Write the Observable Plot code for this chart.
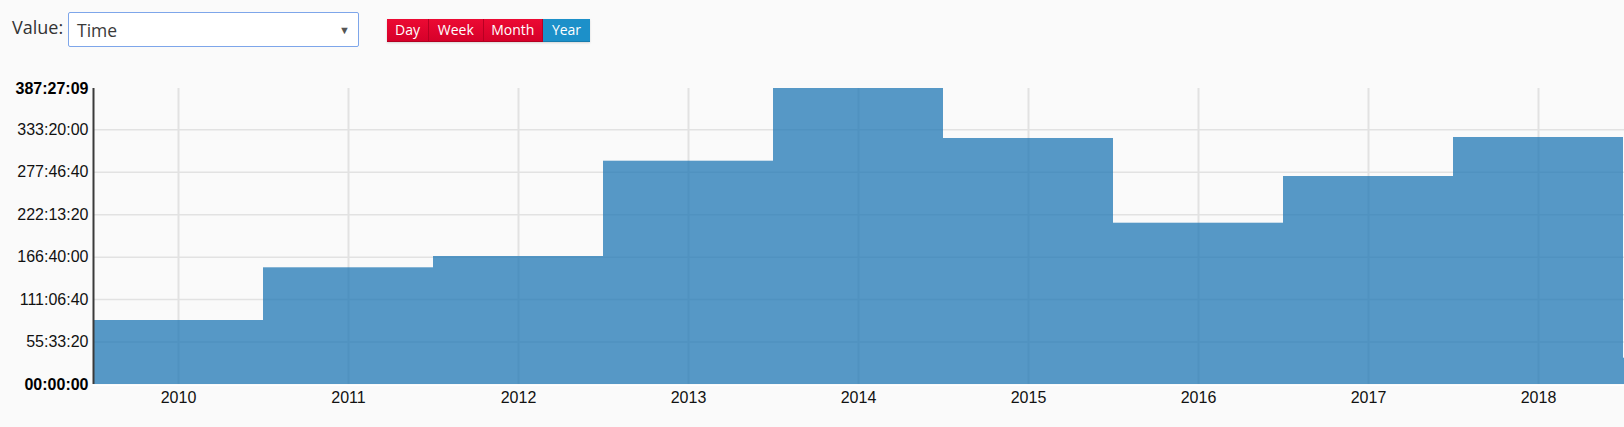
<!DOCTYPE html>
<html>
<head>
<meta charset="utf-8">
<script src="https://cdn.jsdelivr.net/npm/d3@7"></script>
<script src="https://cdn.jsdelivr.net/npm/@observablehq/plot@0.6"></script>
<style>
  html, body { margin: 0; padding: 0; background: #fafafa; width: 1624px; height: 427px; overflow: hidden; }
  #controls { position: relative; height: 70px; font-family: "Open Sans", "Noto Sans", sans-serif; }
  #lbl { position: absolute; left: 12px; top: 15px; font-size: 18px; color: #333; }
  #sel { position: absolute; left: 68px; top: 12px; width: 289px; height: 33px; background: #fff;
         border: 1.5px solid #7ea6ea; border-radius: 2px; }
  #sel .txt { position: absolute; left: 8px; top: 5px; font-size: 17.5px; color: #3a3a3a; }
  #sel .arr { position: absolute; right: 8px; top: 9px; font-size: 11px; color: #555; }
  #btns { position: absolute; left: 387px; top: 19px; height: 23px; display: flex; box-shadow: 0 1px 2px rgba(0,0,0,0.15); }
  #btns div { height: 23px; line-height: 22px; font-size: 14px; font-weight: 500; color: #fff; text-align: center; box-sizing: border-box; }
  .red { background: linear-gradient(#ec0a33, #d6002a); border-right: 1px solid #b80022; border-bottom: 1px solid #b30021; }
  .blue { background: #1c90c9; border-bottom: 1px solid #177cae; }
</style>
</head>
<body>
<div id="controls">
  <div id="lbl">Value:</div>
  <div id="sel"><span class="txt">Time</span><span class="arr">▼</span></div>
  <div id="btns"></div>
</div>
<div id="chart"></div>
<script>
// ---- data ----
const periodButtons = ["Day", "Week", "Month", "Year"];
const activePeriod = "Year";
const years = [2010, 2011, 2012, 2013, 2014, 2015, 2016, 2017, 2018, 2019];
// total time per year, in seconds
const seconds = [301587, 549926, 603174, 1052257, 1394829, 1159226, 760094, 980158, 1163938, 123933];
const xTicks = [2010, 2011, 2012, 2013, 2014, 2015, 2016, 2017, 2018];
const yTicks = [200000, 400000, 600000, 800000, 1000000, 1200000];
const yEndTicks = [0, 1394829];

// ---- buttons ----
const btnWidths = {Day: 42, Week: 54.5, Month: 59.5, Year: 47};
const btns = document.getElementById("btns");
for (const b of periodButtons) {
  const d = document.createElement("div");
  d.textContent = b;
  d.className = b === activePeriod ? "blue" : "red";
  d.style.width = btnWidths[b] + "px";
  btns.appendChild(d);
}

// ---- chart ----
const data = years.map((y, i) => ({year: y, value: seconds[i]}));
const pad = n => String(n).padStart(2, "0");
const fmt = s => {
  const h = Math.floor(s / 3600), m = Math.floor((s % 3600) / 60), sec = Math.round(s % 60);
  return `${pad(h)}:${pad(m)}:${pad(sec)}`;
};
const yMax = yEndTicks[1];

const chart = Plot.plot({
  width: 1624,
  height: 357,
  marginTop: 18,
  marginBottom: 43,
  marginLeft: 93,
  marginRight: 0,
  style: {background: "transparent", fontFamily: "'Liberation Sans', Arial, sans-serif", fontSize: "16px", color: "#111", overflow: "visible"},
  x: {type: "linear", domain: [2009.5, 2009.5 + 1531 / 170], label: null},
  y: {domain: [0, yMax], label: null},
  marks: [
    Plot.ruleY(yTicks, {stroke: "#e2e2e2", strokeWidth: 1.5}),
    Plot.ruleX(xTicks, {y1: 0, y2: yMax, stroke: "#e2e2e2", strokeWidth: 2}),
    Plot.rectY(data, {x1: d => d.year - 0.5, x2: d => d.year + 0.5, y: "value", fill: "#1f77b4", fillOpacity: 0.75, clip: true}),
    Plot.ruleY([0], {stroke: "#ffffff", strokeWidth: 1, dy: 1}),
    Plot.ruleX([2009.5], {y1: 0, y2: yMax, stroke: "#3a3a3a", strokeWidth: 2}),
    Plot.axisY(yTicks, {tickSize: 0, tickPadding: 5, tickFormat: fmt, fontSize: 16, fill: "#111"}),
    Plot.axisY(yEndTicks, {tickSize: 0, tickPadding: 5, tickFormat: fmt, fontSize: 16, fontWeight: "bold", fill: "#000"}),
    Plot.axisX(xTicks, {tickSize: 0, tickPadding: 7, tickFormat: d => String(d), fontSize: 16, fill: "#111"})
  ]
});
document.getElementById("chart").appendChild(chart);
</script>
</body>
</html>
